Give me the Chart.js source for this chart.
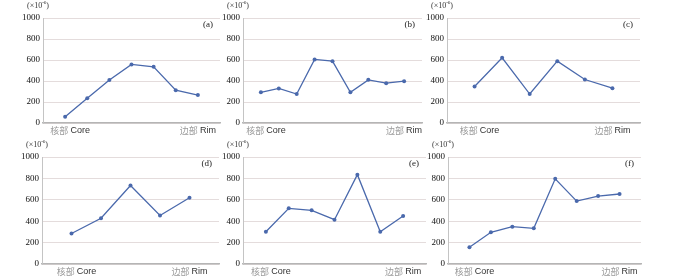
<!DOCTYPE html>
<html>
<head>
<meta charset="utf-8">
<script src="https://cdn.jsdelivr.net/npm/chart.js@4.4.1/dist/chart.umd.min.js"></script>
<style>
  body { margin: 0; background: #fff; width: 700px; height: 277px; position: relative; overflow: hidden; }
  .box { position: absolute; }
</style>
</head>
<body>
<div class="box" id="boxA"><canvas id="chartA"></canvas></div>
<div class="box" id="boxB"><canvas id="chartB"></canvas></div>
<div class="box" id="boxC"><canvas id="chartC"></canvas></div>
<div class="box" id="boxD"><canvas id="chartD"></canvas></div>
<div class="box" id="boxE"><canvas id="chartE"></canvas></div>
<div class="box" id="boxF"><canvas id="chartF"></canvas></div>
<script>
// data (x10^-6)
var coreLabel = ['核部', 'Core'];
var rimLabel = ['边部', 'Rim'];
var yTicks = [0, 200, 400, 600, 800, 1000];
var panelNames = ['(a)', '(b)', '(c)', '(d)', '(e)', '(f)'];

var valuesA = [60, 235, 410, 558, 535, 313, 266];
var valuesB = [292, 329, 276, 605, 589, 292, 411, 379, 398];
var valuesC = [348, 621, 276, 589, 414, 332];
var valuesD = [285, 428, 733, 453, 619];
var valuesE = [302, 520, 502, 414, 835, 302, 449];
var valuesF = [157, 296, 349, 333, 796, 588, 635, 654];

var lineColor = '#4a69ac';

// where each small chart sits on the page
var panels = [
    {id: 'A', values: valuesA, left: 0,   top: 0,   width: 230, height: 137, yw: 43, xh: 14, padTop: 18, padRight: 10},
    {id: 'B', values: valuesB, left: 205, top: 0,   width: 225, height: 137, yw: 38, xh: 14, padTop: 18, padRight: 8},
    {id: 'C', values: valuesC, left: 410, top: 0,   width: 240, height: 137, yw: 37, xh: 14, padTop: 18, padRight: 10},
    {id: 'D', values: valuesD, left: 0,   top: 137, width: 230, height: 140, yw: 42, xh: 13, padTop: 20, padRight: 11},
    {id: 'E', values: valuesE, left: 205, top: 137, width: 225, height: 140, yw: 38, xh: 13, padTop: 20, padRight: 4},
    {id: 'F', values: valuesF, left: 410, top: 137, width: 240, height: 140, yw: 38, xh: 13, padTop: 20, padRight: 9}
];

function twoTone(c, parts, x, y) {
    // first part (chinese) light grey, second part dark
    c.font = '9px "Noto Sans CJK SC"';
    var w1 = c.measureText(parts[0] + ' ').width;
    c.font = '9px "Liberation Sans"';
    var w2 = c.measureText(parts[1]).width;
    var start = x - (w1 + w2) / 2;
    c.textAlign = 'left';
    c.textBaseline = 'middle';
    c.font = '9px "Noto Sans CJK SC"';
    c.fillStyle = '#9a9a9a';
    c.fillText(parts[0], start, y);
    c.font = '9px "Liberation Sans"';
    c.fillStyle = '#333';
    c.fillText(parts[1], start + w1, y);
}

var decor = {
    id: 'decor',
    afterDraw: function(chart, args, opts) {
        var c = chart.ctx, a = chart.chartArea, xs = chart.scales.x;
        var n = opts.count;
        c.save();
        // unit above the y axis
        c.fillStyle = '#333';
        c.textBaseline = 'middle';
        c.textAlign = 'left';
        var ux = a.left - 16, uy = a.top - 12;
        c.font = '8px "Liberation Serif"';
        c.fillText('(×10', ux, uy);
        var w = c.measureText('(×10').width;
        c.font = '5px "Liberation Serif"';
        c.fillText('-6', ux + w, uy - 3);
        var w2 = c.measureText('-6').width;
        c.font = '8px "Liberation Serif"';
        c.fillText(')', ux + w + w2, uy);
        // panel letter
        c.textAlign = 'right';
        c.font = '9px "Liberation Serif"';
        c.fillStyle = '#222';
        c.fillText(opts.name, a.right - 7, a.top + 7);
        // core / rim under the first and last spot
        var ly = a.bottom + 8;
        twoTone(c, coreLabel, xs.getPixelForValue(1) + 5, ly);
        twoTone(c, rimLabel, xs.getPixelForValue(n), ly);
        c.restore();
    }
};

panels.forEach(function(p, k) {
    var box = document.getElementById('box' + p.id);
    box.style.left = p.left + 'px';
    box.style.top = p.top + 'px';
    box.style.width = p.width + 'px';
    box.style.height = p.height + 'px';

    var pts = p.values.map(function(v, i) { return {x: i + 1, y: v}; });

    new Chart(document.getElementById('chart' + p.id), {
        type: 'line',
        data: {
            datasets: [{
                data: pts,
                borderColor: lineColor,
                backgroundColor: lineColor,
                borderWidth: 1.3,
                pointRadius: 2,
                pointBorderWidth: 0,
                pointBackgroundColor: lineColor,
                tension: 0,
                fill: false
            }]
        },
        options: {
            responsive: true,
            maintainAspectRatio: false,
            animation: false,
            events: [],
            layout: {padding: {top: p.padTop, right: p.padRight, left: 0, bottom: 0}},
            plugins: {
                legend: {display: false},
                tooltip: {enabled: false},
                decor: {name: panelNames[k], count: p.values.length}
            },
            scales: {
                x: {
                    type: 'linear',
                    min: 0,
                    max: p.values.length + 1,
                    ticks: {display: false},
                    grid: {display: true, color: 'rgba(0,0,0,0)', drawTicks: false},
                    border: {display: true, color: '#b5b5b5', width: 1.5},
                    afterFit: function(s) { s.height = p.xh; }
                },
                y: {
                    min: 0,
                    max: 1000,
                    afterBuildTicks: function(s) {
                        s.ticks = yTicks.map(function(v) { return {value: v}; });
                    },
                    ticks: {
                        color: '#111',
                        padding: 3,
                        font: {family: '"Liberation Serif"', size: 9},
                        callback: function(v) { return String(v); }
                    },
                    grid: {color: '#e4dcdc', drawTicks: false, lineWidth: 1},
                    border: {display: true, color: '#c4c4c4', width: 1},
                    afterFit: function(s) { s.width = p.yw; }
                }
            }
        },
        plugins: [decor]
    });
});
</script>
</body>
</html>
